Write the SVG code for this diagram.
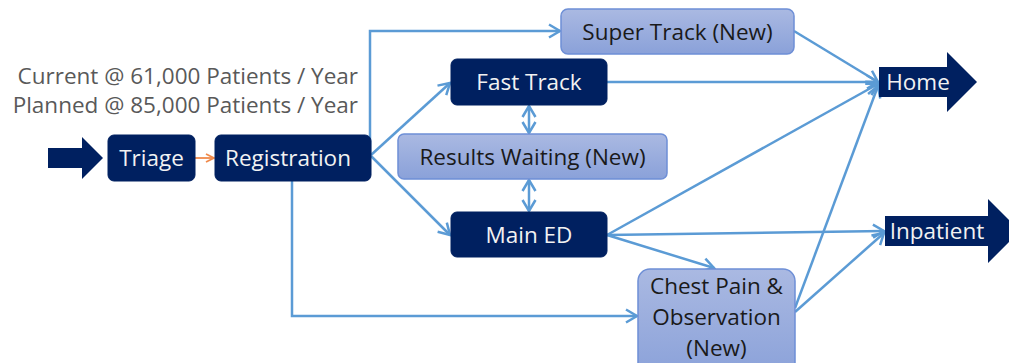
<svg xmlns="http://www.w3.org/2000/svg" width="1009" height="363" viewBox="0 0 1009 363">
<style>
.dark{fill:#002060;stroke:#002060;stroke-width:1}
.light{fill:url(#lg);stroke:#6e8fd6;stroke-width:1.5}
.wt{font-family:"Open Sans","Liberation Sans",sans-serif;font-size:22.5px;fill:#f2f2f2;text-anchor:middle}
.bt{font-family:"Open Sans","Liberation Sans",sans-serif;font-size:22.5px;fill:#1a1a1a;text-anchor:middle}
.gt{font-family:"Open Sans","Liberation Sans",sans-serif;font-size:22.5px;fill:#595959;text-anchor:end}
.c{fill:none;stroke:#5b9bd5;stroke-width:2.5}
</style>
<defs>
<linearGradient id="lg" x1="0" y1="0" x2="0" y2="1">
<stop offset="0" stop-color="#aab9e2"/>
<stop offset="1" stop-color="#8aa1d9"/>
</linearGradient>
<marker id="ah" markerUnits="userSpaceOnUse" markerWidth="16" markerHeight="16" viewBox="0 0 16 16" refX="14" refY="8" orient="auto-start-reverse">
<path d="M3,1.5 L14,8 L3,14.5" fill="none" stroke="#5b9bd5" stroke-width="2.5"/>
</marker>
<marker id="ao" markerUnits="userSpaceOnUse" markerWidth="12" markerHeight="12" viewBox="0 0 12 12" refX="11" refY="6" orient="auto">
<path d="M3,2 L11,6 L3,10" fill="none" stroke="#f08a4b" stroke-width="1.8"/>
</marker>
</defs>

<g id="connectors">
<path class="c" d="M370,155 V31 H560" marker-end="url(#ah)"/>
<line class="c" x1="371" y1="155" x2="450" y2="83" marker-end="url(#ah)"/>
<line class="c" x1="371" y1="156" x2="450" y2="235" marker-end="url(#ah)"/>
<path class="c" d="M292,181 V316 H637" marker-end="url(#ah)"/>
<line class="c" x1="607" y1="82" x2="878" y2="82" marker-end="url(#ah)"/>
<line class="c" x1="794" y1="31" x2="878" y2="82" marker-end="url(#ah)"/>
<line class="c" x1="607" y1="235" x2="878" y2="84" marker-end="url(#ah)"/>
<line class="c" x1="795" y1="308" x2="878" y2="86" marker-end="url(#ah)"/>
<line class="c" x1="607" y1="235" x2="884" y2="231" marker-end="url(#ah)"/>
<line class="c" x1="607" y1="235" x2="714" y2="268" marker-end="url(#ah)"/>
<line class="c" x1="795" y1="312" x2="884" y2="233" marker-end="url(#ah)"/>
<line class="c" x1="529" y1="106" x2="529" y2="133" marker-start="url(#ah)" marker-end="url(#ah)"/>
<line class="c" x1="529" y1="180" x2="529" y2="211" marker-start="url(#ah)" marker-end="url(#ah)"/>
<line x1="195" y1="158" x2="214" y2="158" stroke="#f08a4b" stroke-width="1.8" marker-end="url(#ao)"/>
</g>

<g id="label-volume">
<text class="gt" x="358" y="84">Current @ 61,000 Patients / Year</text>
<text class="gt" x="358" y="113">Planned @ 85,000 Patients / Year</text>
</g>

<g id="entry">
<path d="M48,148 H82 V137 L103,158 L82,179 V168 H48 Z" fill="#002060"/>
</g>

<g id="triage">
<rect class="dark" x="108" y="135" width="87" height="46" rx="6"/>
<text class="wt" x="151.5" y="166">Triage</text>
</g>

<g id="registration">
<rect class="dark" x="215" y="135" width="156" height="46" rx="6"/>
<text class="wt" x="288" y="166">Registration</text>
</g>

<g id="super-track">
<rect class="light" x="561" y="9" width="233" height="45" rx="7"/>
<text class="bt" x="677.5" y="39.5">Super Track (New)</text>
</g>

<g id="fast-track">
<rect class="dark" x="451" y="59" width="156" height="46" rx="6"/>
<text class="wt" x="529" y="90">Fast Track</text>
</g>

<g id="results-waiting">
<rect class="light" x="398" y="134" width="269" height="45" rx="6"/>
<text class="bt" x="532.5" y="165">Results Waiting (New)</text>
</g>

<g id="main-ed">
<rect class="dark" x="451" y="212" width="156" height="45" rx="6"/>
<text class="wt" x="529" y="243">Main ED</text>
</g>

<g id="chest-pain">
<rect class="light" x="638" y="269" width="157" height="110" rx="12"/>
<text class="bt" x="716.5" y="294">Chest Pain &amp;</text>
<text class="bt" x="716.5" y="325">Observation</text>
<text class="bt" x="716.5" y="356">(New)</text>
</g>

<g id="home">
<path d="M879,67 H947 V52 L977,82 L947,112 V97 H879 Z" fill="#002060"/>
<text class="wt" x="918" y="90">Home</text>
</g>

<g id="inpatient">
<path d="M885,216 H988 V199 L1020,231 L988,263 V246 H885 Z" fill="#002060"/>
<text class="wt" x="937" y="239">Inpatient</text>
</g>
</svg>
